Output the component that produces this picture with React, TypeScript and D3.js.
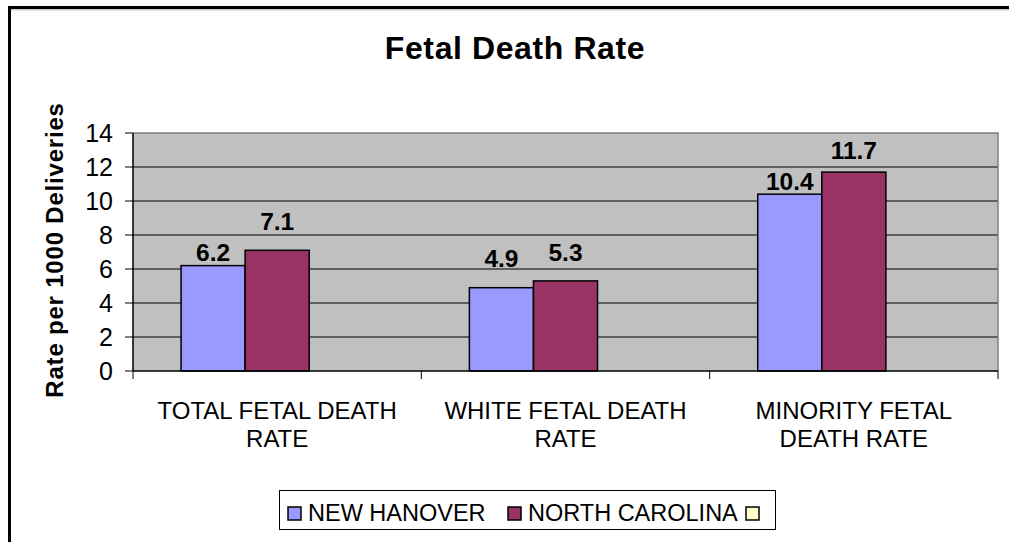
import React from "react";
import * as d3 from "d3";

// ---- data ----
const categoryKeys = ["TOTAL", "WHITE", "MINORITY"];
const categoryLines = [
  ["TOTAL FETAL DEATH", "RATE"],
  ["WHITE FETAL DEATH", "RATE"],
  ["MINORITY FETAL", "DEATH RATE"],
];
const seriesNames = ["NEW HANOVER", "NORTH CAROLINA", ""];
const newHanover = [6.2, 4.9, 10.4];
const northCarolina = [7.1, 5.3, 11.7];
const thirdSeries: (number | null)[] = [null, null, null];
const yTicks = [0, 2, 4, 6, 8, 10, 12, 14];
const chartTitle = "Fetal Death Rate";
const yAxisTitle = "Rate per 1000 Deliveries";

// ---- styles / layout ----
const seriesColors = ["#9999FF", "#993366", "#FFFFCC"];
const labelLift = [
  [5, 20, 0],
  [21, 20, 0],
  [4, 13, 0],
];
const FONT = "'Liberation Sans', Arial, Helvetica, sans-serif";
const W = 1009;
const H = 542;
const plot = { left: 133, right: 998, top: 133, bottom: 371 };
const legendBox = { x: 279, y: 490, w: 496, h: 39 };
const legendItemX = [288, 508, 746];

export default function App() {
  const seriesValues = [newHanover, northCarolina, thirdSeries];
  const y = d3.scaleLinear().domain([0, 14]).range([plot.bottom, plot.top]);
  const x0 = d3
    .scaleBand<string>()
    .domain(categoryKeys)
    .range([plot.left, plot.right])
    .paddingInner(1 / 3)
    .paddingOuter(1 / 6);
  const x1 = d3
    .scaleBand<number>()
    .domain(seriesNames.map((_, i) => i))
    .range([0, x0.bandwidth()]);
  const step = x0.step();
  const catStart = (i: number) => (x0(categoryKeys[i]) as number) - (step - x0.bandwidth()) / 2;
  const boundaries = d3.range(categoryKeys.length + 1).map((i) =>
    i < categoryKeys.length ? catStart(i) : catStart(i - 1) + step
  );

  return (
    <svg
      width={W}
      height={H}
      style={{ position: "absolute", left: 0, top: 0, background: "#fff" }}
      fontFamily={FONT}
    >
      {/* outer chart border (cropped on right and bottom) */}
      <rect x={9.5} y={7.5} width={1020} height={560} fill="#fff" stroke="#000" strokeWidth={3} />
      <line x1={11} x2={W} y1={9.8} y2={9.8} stroke="#b0b0b0" strokeWidth={1} />

      {/* title */}
      <text x={515} y={59} textAnchor="middle" fontSize={32} fontWeight="bold" letterSpacing={0.6}>
        {chartTitle}
      </text>

      {/* plot area */}
      <rect
        x={plot.left}
        y={plot.top}
        width={plot.right - plot.left}
        height={plot.bottom - plot.top}
        fill="#C0C0C0"
      />
      {/* gridlines */}
      {yTicks
        .filter((t) => t > 0 && t < 14)
        .map((t) => (
          <line key={"g" + t} x1={plot.left} x2={plot.right} y1={y(t)} y2={y(t)} stroke="#000" strokeWidth={1} />
        ))}
      {/* plot border top/right */}
      <polyline
        points={`${plot.left},${plot.top} ${plot.right},${plot.top} ${plot.right},${plot.bottom}`}
        fill="none"
        stroke="#808080"
        strokeWidth={1.5}
      />

      {/* bars */}
      {categoryKeys.map((c, ci) =>
        seriesValues.map((vals, si) => {
          const v = vals[ci];
          if (v == null) return null;
          const bx = (x0(c) as number) + (x1(si) as number);
          return (
            <rect
              key={c + si}
              x={bx}
              y={y(v)}
              width={x1.bandwidth()}
              height={y(0) - y(v)}
              fill={seriesColors[si]}
              stroke="#000"
              strokeWidth={1.5}
            />
          );
        })
      )}

      {/* value labels */}
      {categoryKeys.map((c, ci) =>
        seriesValues.map((vals, si) => {
          const v = vals[ci];
          if (v == null) return null;
          const cx = (x0(c) as number) + (x1(si) as number) + x1.bandwidth() / 2;
          return (
            <text
              key={"l" + c + si}
              x={cx}
              y={y(v) - labelLift[ci][si]}
              textAnchor="middle"
              fontSize={24.5}
              fontWeight="bold"
            >
              {v.toFixed(1)}
            </text>
          );
        })
      )}

      {/* y axis */}
      <line x1={plot.left} x2={plot.left} y1={plot.top} y2={plot.bottom} stroke="#000" strokeWidth={1.5} />
      {yTicks.map((t) => (
        <g key={"t" + t}>
          <line x1={plot.left - 8} x2={plot.left} y1={y(t)} y2={y(t)} stroke="#000" strokeWidth={1} />
          <text x={113} y={y(t)} dy="0.36em" textAnchor="end" fontSize={25}>
            {t}
          </text>
        </g>
      ))}

      {/* x axis */}
      <line x1={plot.left} x2={plot.right} y1={plot.bottom} y2={plot.bottom} stroke="#000" strokeWidth={1.5} />
      {boundaries.map((bx, i) => (
        <line key={"xt" + i} x1={bx} x2={bx} y1={plot.bottom} y2={plot.bottom + 8} stroke="#000" strokeWidth={1} />
      ))}
      {categoryKeys.map((c, ci) => {
        const cx = (x0(c) as number) + x0.bandwidth() / 2;
        return (
          <text key={"c" + c} textAnchor="middle" fontSize={24}>
            {categoryLines[ci].map((ln, li) => (
              <tspan key={li} x={cx} y={419 + li * 28}>
                {ln}
              </tspan>
            ))}
          </text>
        );
      })}

      {/* y axis title */}
      <text
        transform={`translate(63, 250) rotate(-90)`}
        textAnchor="middle"
        fontSize={24}
        fontWeight="bold"
        letterSpacing={0.8}
      >
        {yAxisTitle}
      </text>

      {/* legend */}
      <rect
        x={legendBox.x + 0.5}
        y={legendBox.y + 0.5}
        width={legendBox.w}
        height={legendBox.h}
        fill="#fff"
        stroke="#000"
        strokeWidth={1}
      />
      {seriesNames.map((name, si) => (
        <g key={"lg" + si}>
          <rect
            x={legendItemX[si]}
            y={507}
            width={13}
            height={13}
            fill={seriesColors[si]}
            stroke="#000"
            strokeWidth={1.5}
          />
          {name && (
            <text x={legendItemX[si] + 20} y={521} fontSize={23.5}>
              {name}
            </text>
          )}
        </g>
      ))}
    </svg>
  );
}
